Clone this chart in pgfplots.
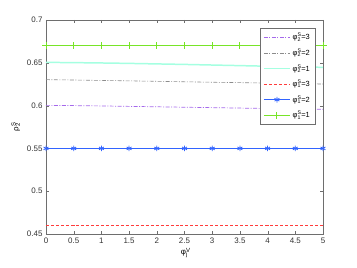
\documentclass[border=0pt]{standalone}
\usepackage{pgfplots}
\pgfplotsset{compat=1.18}
\usepackage{fontspec}
\setmainfont{Liberation Sans}
\newcommand\subsup[2]{\mbox{\rlap{\textsuperscript{#2}}\textsubscript{#1}\kern0.3bp}}
\definecolor{mygreen}{RGB}{120,228,40}
\definecolor{mycyan}{RGB}{165,255,225}
\definecolor{mypurple}{RGB}{165,105,235}
\definecolor{mygray}{RGB}{140,140,140}
\definecolor{myred}{RGB}{255,60,60}
\definecolor{myblue}{RGB}{50,100,255}
\definecolor{axgray}{RGB}{110,110,110}
\begin{document}
\begin{tikzpicture}[font=\fontsize{8}{9}\selectfont]
\path (-46bp,-34bp) rectangle (311bp,234bp);
\begin{axis}[
  at={(0,0)}, anchor=south west,
  scale only axis, width=277bp, height=214bp,
  xmin=0, xmax=5, ymin=0.45, ymax=0.7,
  xtick={0,0.5,...,5}, ytick={0.45,0.5,...,0.7},
  yticklabels={0.45,0.5,0.55,0.6,0.65,0.7},
  tick align=inside, major tick length=3bp,
  axis line style={axgray}, tick style={axgray},
  ticklabel style={text=black!80},
  /pgf/number format/assume math mode=true,
  xlabel={φ\subsup{j}{V}}, ylabel={ρ\subsup{2}{S}},
  xlabel style={yshift=2bp},
  legend style={at={(0.971,0.963)}, anchor=north east, draw=axgray, font=\fontsize{7.5}{9}\selectfont, row sep=3.5bp, inner sep=3bp},
  legend cell align=left,
  legend image code/.code={\draw[mark repeat=2,mark phase=2,#1] plot coordinates {(0bp,0bp) (13bp,0bp) (26bp,0bp)};},
]
\addplot[color=mypurple, dash pattern=on 4pt off 1.5pt on 1pt off 1.5pt, line width=0.7pt] coordinates {(0,0.6003)(0.5,0.6000)(1,0.5996)(1.5,0.5991)(2,0.5986)(2.5,0.5981)(3,0.5976)(3.5,0.5971)(4,0.5966)(4.5,0.5961)(5,0.5957)};
\addlegendentry{φ\subsup{2}{S}=3}
\addplot[color=mygray, dash pattern=on 4pt off 1.5pt on 1pt off 1.5pt, line width=0.6pt] coordinates {(0,0.6303)(0.5,0.6299)(1,0.6294)(1.5,0.6289)(2,0.6284)(2.5,0.6278)(3,0.6273)(3.5,0.6268)(4,0.6263)(4.5,0.6257)(5,0.6252)};
\addlegendentry{φ\subsup{2}{S}=2}
\addplot[color=mycyan, line width=1.5pt] coordinates {(0,0.6505)(0.5,0.6502)(1,0.6498)(1.5,0.6493)(2,0.6487)(2.5,0.6481)(3,0.6474)(3.5,0.6467)(4,0.6460)(4.5,0.6453)(5,0.6447)};
\addlegendentry{φ\subsup{2}{S}=1}
\addplot[color=myred, dash pattern=on 3pt off 2pt, line width=0.9pt] coordinates {(0,0.46)(0.5,0.46)(1,0.46)(1.5,0.46)(2,0.46)(2.5,0.46)(3,0.46)(3.5,0.46)(4,0.46)(4.5,0.46)(5,0.46)};
\addlegendentry{φ\subsup{1}{S}=3}
\addplot[color=myblue, line width=0.8pt, mark=asterisk, mark size=2.8bp] coordinates {(0,0.55)(0.5,0.55)(1,0.55)(1.5,0.55)(2,0.55)(2.5,0.55)(3,0.55)(3.5,0.55)(4,0.55)(4.5,0.55)(5,0.55)};
\addlegendentry{φ\subsup{1}{S}=2}
\addplot[color=mygreen, line width=1pt, mark=+, mark size=3.5bp] coordinates {(0,0.67)(0.5,0.67)(1,0.67)(1.5,0.67)(2,0.67)(2.5,0.67)(3,0.67)(3.5,0.67)(4,0.67)(4.5,0.67)(5,0.67)};
\addlegendentry{φ\subsup{1}{S}=1}
\end{axis}
\end{tikzpicture}
\end{document}
